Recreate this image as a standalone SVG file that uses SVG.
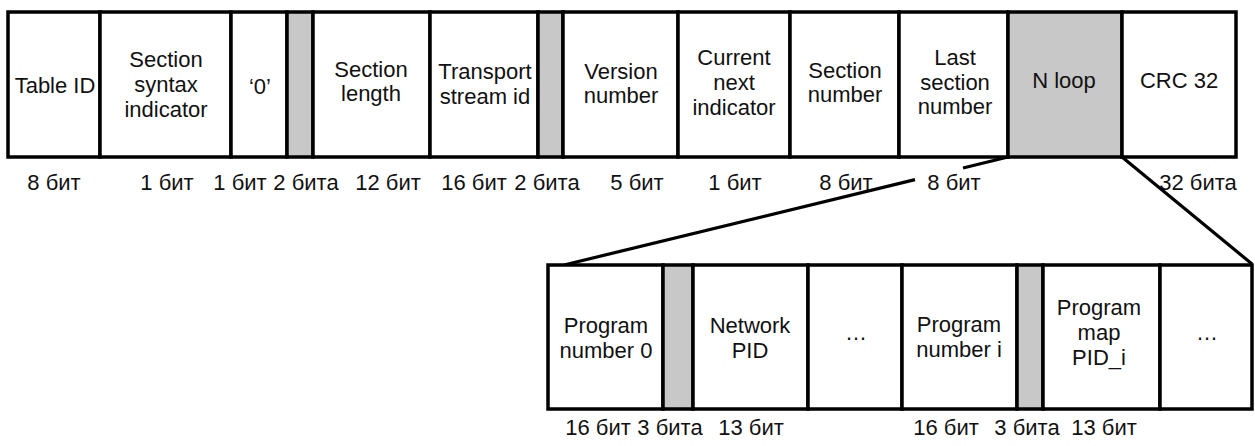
<svg xmlns="http://www.w3.org/2000/svg" width="1255" height="446" viewBox="0 0 1255 446">
<style>
.cell{fill:#fff;stroke:#000;stroke-width:3.5}
.gray{fill:#c8c8c8;stroke:#000;stroke-width:3.5}
text{font-family:"Liberation Sans",Arial,sans-serif;font-size:22px;fill:#111;text-anchor:middle}
.conn{stroke:#000;stroke-width:3.2;fill:none;stroke-linecap:butt}
</style>
<rect width="1255" height="446" fill="#fff"/>
<g id="top-row">
<g id="table-id"><rect class="cell" x="8" y="12" width="92" height="145"/><text x="55" y="93">Table ID</text></g>
<g id="section-syntax-indicator"><rect class="cell" x="100" y="12" width="131" height="145"/><text x="166" y="67">Section</text><text x="166" y="92">syntax</text><text x="166" y="117">indicator</text></g>
<g id="zero-bit"><rect class="cell" x="231" y="12" width="56" height="145"/><text x="260" y="94">‘0’</text></g>
<g id="reserved-1"><rect class="gray" x="287" y="12" width="26" height="145"/></g>
<g id="section-length"><rect class="cell" x="313" y="12" width="117" height="145"/><text x="371" y="77">Section</text><text x="371" y="101">length</text></g>
<g id="transport-stream-id"><rect class="cell" x="430" y="12" width="108" height="145"/><text x="485" y="79">Transport</text><text x="485" y="104">stream id</text></g>
<g id="reserved-2"><rect class="gray" x="538" y="12" width="25" height="145"/></g>
<g id="version-number"><rect class="cell" x="563" y="12" width="115" height="145"/><text x="621" y="79">Version</text><text x="621" y="103">number</text></g>
<g id="current-next-indicator"><rect class="cell" x="678" y="12" width="112" height="145"/><text x="734" y="65">Current</text><text x="734" y="90">next</text><text x="734" y="115">indicator</text></g>
<g id="section-number"><rect class="cell" x="790" y="12" width="109" height="145"/><text x="845" y="78">Section</text><text x="845" y="102">number</text></g>
<g id="last-section-number"><rect class="cell" x="899" y="12" width="109" height="145"/><text x="955" y="65">Last</text><text x="955" y="90">section</text><text x="955" y="114">number</text></g>
<g id="n-loop"><rect class="gray" x="1008" y="12" width="114" height="145"/><text x="1064" y="88">N loop</text></g>
<g id="crc-32"><rect class="cell" x="1122" y="12" width="114" height="145"/><text x="1179" y="88">CRC 32</text></g>
</g>
<g id="top-labels">
<text x="54" y="190">8 бит</text>
<text x="167" y="190">1 бит</text>
<text x="240" y="190">1 бит</text>
<text x="306" y="190">2 бита</text>
<text x="388" y="190">12 бит</text>
<text x="474" y="190">16 бит</text>
<text x="547" y="190">2 бита</text>
<text x="637" y="190">5 бит</text>
<text x="735" y="190">1 бит</text>
<text x="846" y="190">8 бит</text>
<text x="954" y="190">8 бит</text>
<text x="1198" y="190">32 бита</text>
</g>
<g id="connectors">
<line class="conn" x1="1008" y1="157" x2="963" y2="168"/>
<line class="conn" x1="915" y1="179.6" x2="564" y2="265"/>
<line class="conn" x1="1122" y1="157" x2="1252" y2="264"/>
</g>
<g id="loop-row">
<g id="program-number-0"><rect class="cell" x="548" y="265" width="115" height="144"/><text x="606" y="333">Program</text><text x="606" y="358">number 0</text></g>
<g id="reserved-3"><rect class="gray" x="663" y="265" width="30" height="144"/></g>
<g id="network-pid"><rect class="cell" x="693" y="265" width="115" height="144"/><text x="750" y="333">Network</text><text x="750" y="358">PID</text></g>
<g id="ellipsis-1"><rect class="cell" x="808" y="265" width="94" height="144"/><text x="856" y="340">…</text></g>
<g id="program-number-i"><rect class="cell" x="902" y="265" width="115" height="144"/><text x="959" y="332">Program</text><text x="959" y="357">number i</text></g>
<g id="reserved-4"><rect class="gray" x="1017" y="265" width="26" height="144"/></g>
<g id="program-map-pid-i"><rect class="cell" x="1043" y="265" width="117" height="144"/><text x="1099" y="315">Program</text><text x="1099" y="340">map</text><text x="1099" y="365">PID_i</text></g>
<g id="ellipsis-2"><rect class="cell" x="1160" y="265" width="92" height="144"/><text x="1207" y="340">…</text></g>
</g>
<g id="loop-labels">
<text x="598" y="435">16 бит</text>
<text x="670" y="435">3 бита</text>
<text x="751" y="435">13 бит</text>
<text x="946" y="435">16 бит</text>
<text x="1027" y="435">3 бита</text>
<text x="1104" y="435">13 бит</text>
</g>
</svg>
